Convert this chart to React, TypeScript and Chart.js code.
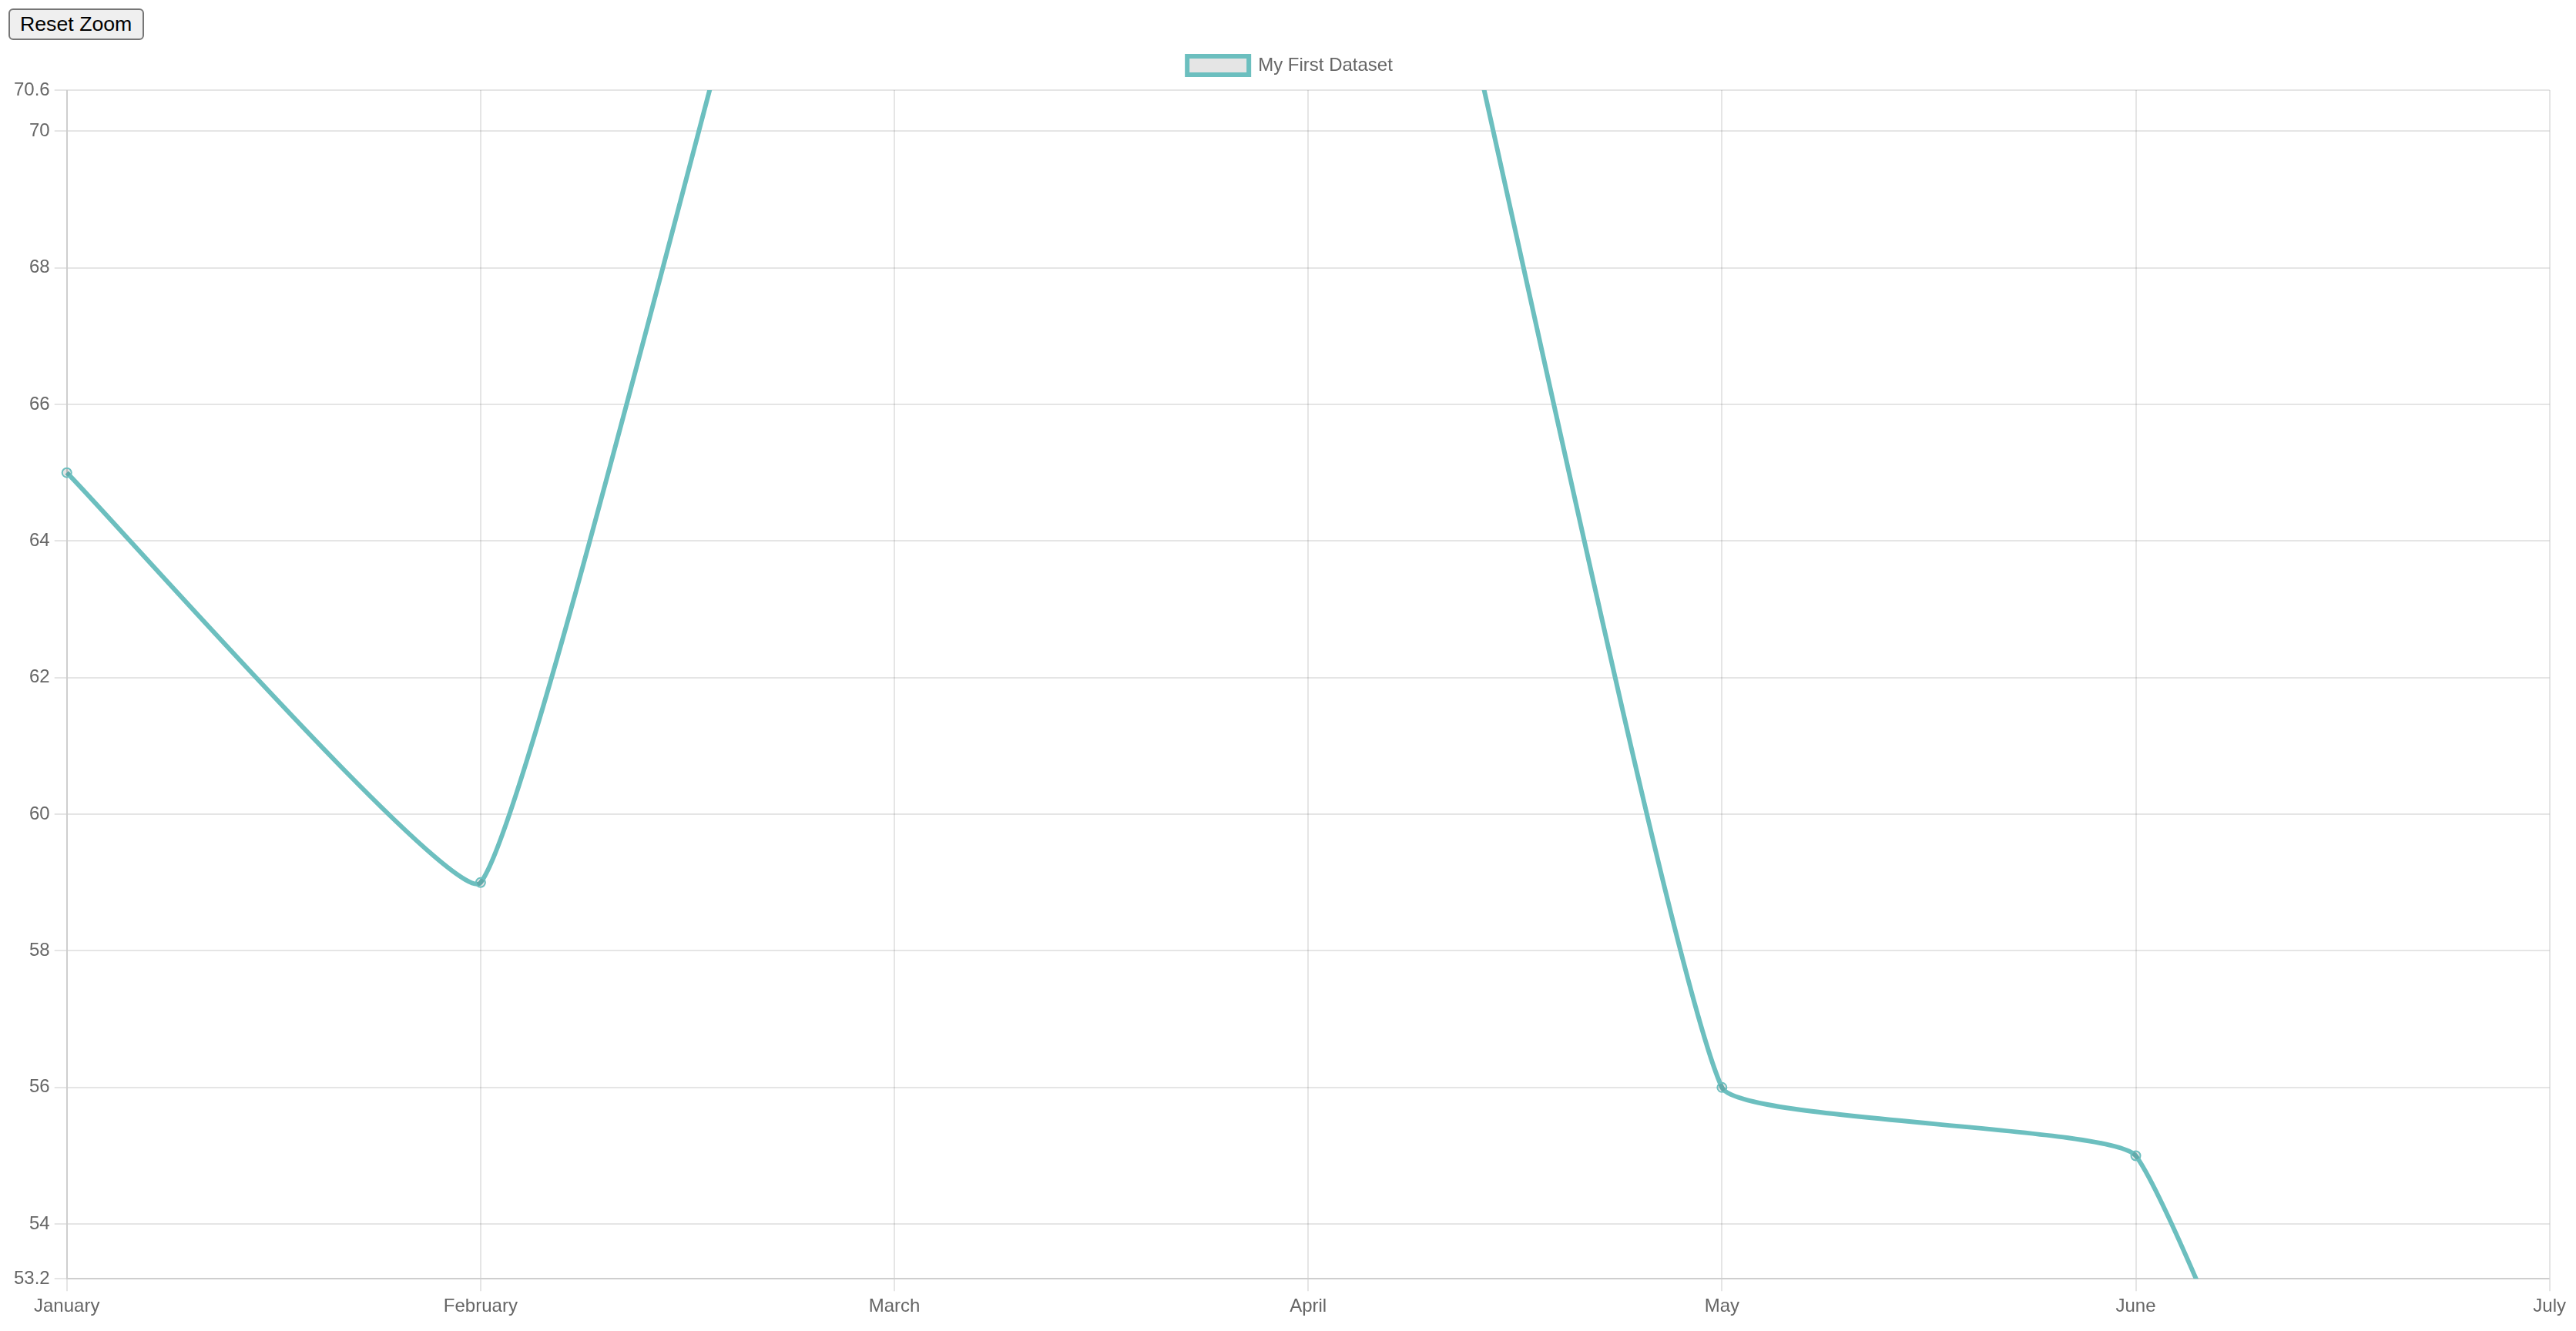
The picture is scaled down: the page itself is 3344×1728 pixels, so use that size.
import React, { useEffect, useRef } from 'react';
import { Chart, registerables } from 'chart.js';

Chart.register(...registerables);

const monthLabels = ['January', 'February', 'March', 'April', 'May', 'June', 'July'];
const firstDataset = [65, 59, 80, 81, 56, 55, 40];
const yTicks = [53.2, 54, 56, 58, 60, 62, 64, 66, 68, 70, 70.6];
const yMin = 53.2;
const yMax = 70.6;

// the reference was taken at 2x, this page runs at 1x, so sizes are doubled
const S = 2;

// the legend's fixed +10 is not scaled, so add the missing gap under it
const legendGap = {
    id: 'legendGap',
    beforeInit(chart: any) {
        const legend = chart.legend;
        if (!legend) return;
        const fit = legend.fit;
        legend.fit = function () {
            fit.call(legend);
            legend.height += 10 * (S - 1);
        };
    },
};

const App: React.FC = () => {
    const canvasRef = useRef<HTMLCanvasElement | null>(null);

    useEffect(() => {
        document.documentElement.style.overflow = 'hidden';
        if (!canvasRef.current) return;
        const ctx = canvasRef.current.getContext('2d');
        if (!ctx) return;

        Chart.defaults.font.family = "'Liberation Sans', Arial, sans-serif";
        Chart.defaults.font.size = 12 * S;
        Chart.defaults.color = '#666';

        const gridColor = 'rgba(0, 0, 0, 0.1)';
        const lineColor = 'rgb(108, 191, 191)';

        const chart = new Chart(ctx, {
            type: 'line',
            data: {
                labels: monthLabels,
                datasets: [{
                    label: 'My First Dataset',
                    data: firstDataset,
                    fill: false,
                    borderColor: lineColor,
                    backgroundColor: 'rgba(0, 0, 0, 0.1)',
                    borderWidth: 3 * S,
                    tension: 0.1,
                    pointRadius: 3 * S,
                    pointBorderWidth: 1 * S,
                    pointBackgroundColor: 'rgba(0, 0, 0, 0.1)',
                    pointBorderColor: lineColor,
                }],
            },
            options: {
                animation: false,
                responsive: true,
                maintainAspectRatio: false,
                layout: { padding: { left: 4 } },
                plugins: {
                    legend: {
                        labels: { boxWidth: 40 * S, boxHeight: 12 * S, padding: 10 * S },
                    },
                    tooltip: { enabled: false },
                },
                scales: {
                    x: {
                        offset: false,
                        grid: { color: gridColor, lineWidth: S, tickLength: 8 * S },
                        border: { color: gridColor, width: S },
                        ticks: { maxRotation: 0, autoSkip: false, padding: 3 * S },
                    },
                    y: {
                        min: yMin,
                        max: yMax,
                        grid: { color: gridColor, lineWidth: S, tickLength: 8 * S },
                        border: { color: gridColor, width: S },
                        ticks: { padding: 3 * S },
                        afterBuildTicks: (scale: any) => {
                            scale.ticks = yTicks.map(v => ({ value: v }));
                        },
                    },
                },
            },
            plugins: [legendGap],
        });

        return () => {
            chart.destroy();
        };
    }, []);

    return (
        <div style={{ paddingTop: 2.7 }}>
            <button
                style={{
                    display: 'block',
                    margin: '0 0 0 2.7px',
                    width: 176,
                    height: 41,
                    boxSizing: 'border-box',
                    padding: '2px 12px',
                    font: "26.7px 'Liberation Sans', Arial, sans-serif",
                    color: '#000',
                    background: '#efefef',
                    border: '2px solid #767676',
                    borderRadius: 6,
                }}
            >
                Reset Zoom
            </button>
            <div style={{ position: 'relative', width: 3329, height: 1664, marginTop: 1.3 }}>
                <canvas ref={canvasRef} />
            </div>
        </div>
    );
};

export default App;
